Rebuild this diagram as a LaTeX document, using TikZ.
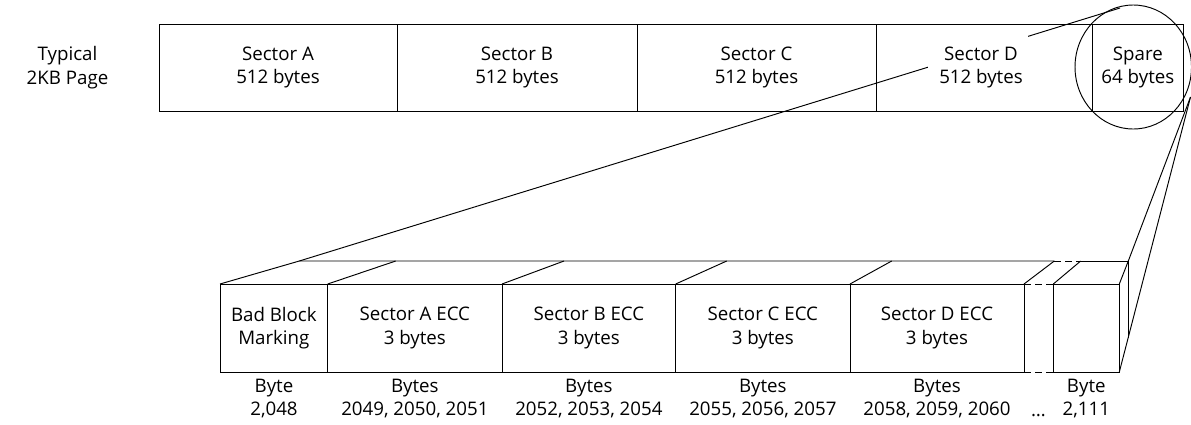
\documentclass[tikz,border=0pt]{standalone}
\usepackage{fontspec}
\setmainfont{Open Sans}
\usetikzlibrary{shapes.geometric}
\begin{document}
\begin{tikzpicture}[x=1pt,y=-1pt,line width=0.95pt,
  txt/.style={font=\fontsize{18.7}{23.5}\selectfont,align=center,inner sep=0pt},
  cell/.style={draw,anchor=north west,minimum height=87pt,inner sep=0pt,outer sep=0pt},
  bcell/.style={draw,anchor=north west,minimum height=88pt,inner sep=0pt,outer sep=0pt},
  dsh/.style={dash pattern=on 7pt off 4pt}]
\useasboundingbox (0,0) rectangle (1191,424);
% long zoom line
\coordinate (ctop) at (1120,8);
\coordinate (cside) at (1190.5,97);
\coordinate (k0) at (299.3,261);
\draw (k0) -- (ctop);
\fill[white] (928,33) rectangle (1028,100);
% top page
\node[cell,minimum width=238pt] (sa) at (159,24) {};
\node[cell,minimum width=240pt] (sb) at (397,24) {};
\node[cell,minimum width=239pt] (sc) at (637,24) {};
\node[cell,minimum width=216.7pt] (sd) at (876,24) {};
\node[cell,minimum width=90.3pt] (sp) at (1092.7,24) {};
\node[txt] (tsa) at (sa.center) {Sector A\\512 bytes};
\node[txt] (tsb) at (sb.center) {Sector B\\512 bytes};
\node[txt] (tsc) at (sc.center) {Sector C\\512 bytes};
\node[txt] (tsd) at (981,67.5) {Sector D\\512 bytes};
\node[txt] (tsp) at (sp.center) {Spare\\64 bytes};
\node[txt] (lbl) at (67.5,67.5) {Typical\\2KB Page};
\node[draw,ellipse,minimum width=116.5pt,minimum height=124pt,inner sep=0pt] (circ) at (1133.25,67) {};
% bottom boxes
\node[bcell,minimum width=107.7pt] (bb) at (220,284) {};
\node[bcell,minimum width=174.3pt] (ea) at (327.7,284) {};
\node[bcell,minimum width=173.7pt] (eb) at (502,284) {};
\node[bcell,minimum width=174.3pt] (ec) at (675.7,284) {};
\node[bcell,minimum width=174pt] (ed) at (850,284) {};
\node[bcell,minimum width=66pt] (lb) at (1053.3,284) {};
\node[txt] (tbb) at (bb.center) {Bad Block\\Marking};
\node[txt] (tea) at (ea.center) {Sector A ECC\\3 bytes};
\node[txt] (teb) at (eb.center) {Sector B ECC\\3 bytes};
\node[txt] (tec) at (ec.center) {Sector C ECC\\3 bytes};
\node[txt] (ted) at (ed.center) {Sector D ECC\\3 bytes};
% gap dashes
\draw[dsh] (ed.north east) -- (lb.north west);
\draw[dsh] (ed.south east) -- (lb.south west);
% top face
\coordinate (k1) at (395.7,261);
\coordinate (k2) at (564,261);
\coordinate (k3) at (726.7,261);
\coordinate (k4) at (891.7,261);
\coordinate (k5) at (1054.3,261);
\coordinate (k6) at (1080.7,261);
\coordinate (k7) at (1128.3,261);
\coordinate (k8) at (1128.3,338);
\draw (bb.north west) -- (k0) -- (k5);
\draw[dsh] (k5) -- (k6);
\draw (k6) -- (k7) -- (k8);
\draw (ea.north west) -- (k1);
\draw (eb.north west) -- (k2);
\draw (ec.north west) -- (k3);
\draw (ed.north west) -- (k4);
\draw (ed.north east) -- (k5);
\draw (lb.north west) -- (k6);
\draw (lb.north east) -- (k7);
% zoom lines to spare
\draw (cside) -- (k7);
\draw (cside) -- (lb.south east);
% labels under
\node[txt] (ub) at (274,398.5) {Byte\\2,048};
\node[txt] (ua) at (ea.center |- 0,398.5) {Bytes\\2049, 2050, 2051};
\node[txt] (ubb) at (eb.center |- 0,398.5) {Bytes\\2052, 2053, 2054};
\node[txt] (uc) at (ec.center |- 0,398.5) {Bytes\\2055, 2056, 2057};
\node[txt] (ud) at (ed.center |- 0,398.5) {Bytes\\2058, 2059, 2060};
\node[txt,anchor=base] (dots) at (1038.5,416.5) {\dots};
\node[txt] (ul) at (lb.center |- 0,398.5) {Byte\\2,111};
\end{tikzpicture}
\end{document}
